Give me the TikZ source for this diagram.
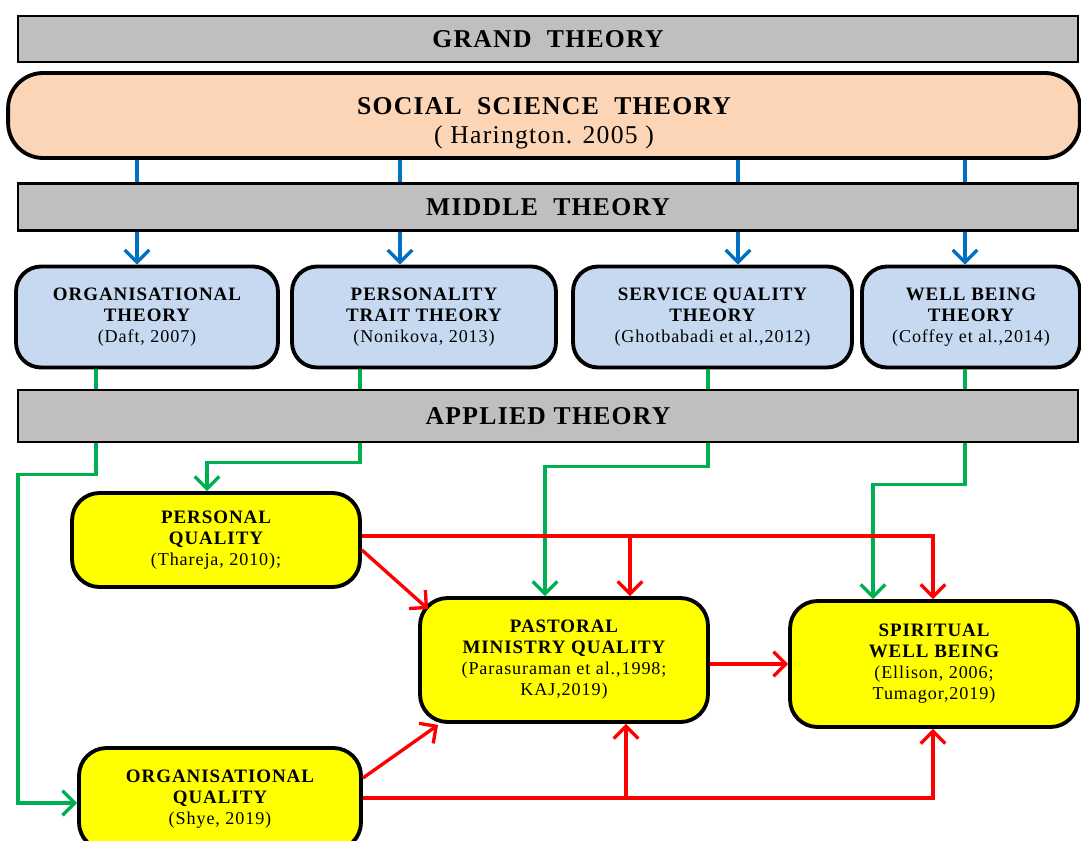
\documentclass[tikz,border=0pt]{standalone}
\usepackage{fontspec}
\setmainfont{Liberation Serif}[LetterSpace=5]
\usetikzlibrary{arrows.meta,calc,positioning}

\definecolor{barGray}{HTML}{BFBFBF}
\definecolor{peach}{HTML}{FBD5B5}
\definecolor{paleBlue}{HTML}{C6D9F1}
\definecolor{boxYellow}{HTML}{FFFF00}
\definecolor{linkBlue}{HTML}{0070C0}
\definecolor{linkGreen}{HTML}{00B050}
\definecolor{linkRed}{HTML}{FF0000}

% citation under a box title
\newcommand{\srcnote}[1]{{\mdseries\fontsize{10.3}{12}\selectfont #1}}

\begin{document}
\begin{tikzpicture}[
    x=0.02cm, y=-0.02cm,
    bar/.style={draw, line width=1.4pt, fill=barGray, minimum width=21.2cm, font=\fontsize{14.6}{17}\selectfont\bfseries},
    theory/.style={draw, line width=2.2pt, rounded corners=0.5cm, fill=paleBlue, minimum height=2.02cm, align=center, font=\fontsize{10.8}{12}\selectfont\bfseries},
    quality/.style={draw, line width=2.2pt, rounded corners=0.55cm, fill=boxYellow, minimum width=5.76cm, align=center, font=\fontsize{10.8}{12}\selectfont\bfseries},
    arrow/.style={-{Straight Barb[length=7pt,width=14pt]}},
    blueline/.style={linkBlue, line width=1.9pt},
    greenline/.style={linkGreen, line width=1.9pt},
    redline/.style={linkRed, line width=1.9pt}
]
\useasboundingbox (0,0) rectangle (1081,841);

% Livelli di teoria
\node[bar, minimum height=0.92cm] (grand) at (548,39) {GRAND\ \ THEORY};
\node[draw, line width=2.2pt, rounded corners=0.7cm, fill=peach, minimum width=21.44cm, minimum height=1.7cm, align=center,
      font=\fontsize{14.6}{16.5}\selectfont] (social) at (544,115.5)
    {\rule{0pt}{19pt}\bfseries SOCIAL\ \ SCIENCE\ \ THEORY\\ ( Harington. 2005 )};
\node[bar, minimum height=0.94cm] (middle) at (548,207) {MIDDLE\ \ THEORY};

% Teorie intermedie
\node[theory, minimum width=5.24cm] (orgth) at (147,317) {ORGANISATIONAL\\THEORY\\\srcnote{(Daft, 2007)}};
\node[theory, minimum width=5.28cm] (perth) at (424,317) {PERSONALITY\\TRAIT THEORY\\\srcnote{(Nonikova, 2013)}};
\node[theory, minimum width=5.58cm] (servth) at (712.5,317) {SERVICE QUALITY\\THEORY\\\srcnote{(Ghotbabadi et al.,2012)}};
\node[theory, minimum width=4.36cm] (wellth) at (971,317) {WELL BEING\\THEORY\\\srcnote{(Coffey et al.,2014)}};

\node[bar, minimum height=1.04cm] (applied) at (548,416) {APPLIED THEORY};

% Variabili applicate
\node[quality, minimum height=1.88cm] (persq) at (216,540) {PERSONAL\\QUALITY\\\srcnote{(Thareja, 2010);}};
\node[quality, minimum width=5.64cm, minimum height=2.04cm] (orgq) at (220,799) {ORGANISATIONAL\\QUALITY\\\srcnote{(Shye, 2019)}};
\node[quality, minimum height=2.48cm] (pastq) at (564,660) {PASTORAL\\MINISTRY QUALITY\\\srcnote{(Parasuraman et al.,1998;}\\\srcnote{KAJ,2019)}};
\node[quality, minimum height=2.52cm] (spirit) at (934,664) {SPIRITUAL\\WELL BEING\\\srcnote{(Ellison, 2006;}\\\srcnote{Tumagor,2019)}};

% Frecce blu: grand -> middle
\foreach \n/\xx in {orgth/137, perth/400, servth/738, wellth/965} {
    \draw[blueline] (social.south -| \xx,0) -- (middle.north -| \xx,0);
    \draw[blueline, arrow] (middle.south -| \xx,0) -- (\n.north -| \xx,0);
}

% Linee verdi: middle -> applied
\foreach \n/\xx in {orgth/96, perth/360, servth/708, wellth/965}
    \draw[greenline] (\n.south -| \xx,0) -- (applied.north -| \xx,0);
\draw[greenline, arrow] (applied.south -| 96,0) -- ++(0,31) -- ++(-78,0) |- ($(orgq.west)+(0,4)$);
\draw[greenline, arrow] (applied.south -| 360,0) -- ++(0,19) -| (persq.north -| 207,0);
\draw[greenline, arrow] (applied.south -| 708,0) -- ++(0,23) -| (pastq.north -| 545,0);
\draw[greenline, arrow] (applied.south -| 965,0) -- ++(0,41) -| (spirit.north -| 873,0);

% Relazioni tra le variabili
\draw[redline, arrow] (persq.east |- 0,536) -| (spirit.north -| 933,0);
\draw[redline, arrow] (persq.east |- 0,536) -| (pastq.north -| 630,0);
\draw[redline, arrow] (persq.east |- 0,550) -- ($(pastq.north west)+(10,13)$);
\draw[redline, arrow] (orgq.east |- 0,778) -- ($(pastq.south west)+(20,1)$);
\draw[redline, arrow] (orgq.east |- 0,798) -| (spirit.south -| 933,0);
\draw[redline, arrow] (orgq.east |- 0,798) -| (pastq.south -| 626,0);
\draw[redline, arrow] (pastq.east |- spirit.west) -- (spirit.west);

\end{tikzpicture}
\end{document}
